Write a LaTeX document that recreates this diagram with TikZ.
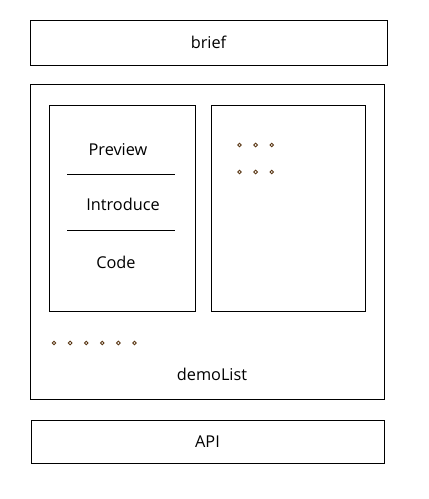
\documentclass[tikz,border=0pt]{standalone}
\usepackage{fontspec}
\setmainfont{Open Sans}
\usetikzlibrary{positioning}

\begin{document}
\begin{tikzpicture}[x=1pt, y=-1pt, line width=1pt, node distance=16pt, box node/.style={draw, rectangle, inner sep=0pt, font=\fontsize{16.3}{19}\selectfont}, text node/.style={inner sep=0pt, font=\fontsize{16.3}{19}\selectfont}, dot node/.style={circle, draw={rgb,255:red,90;green,55;blue,20}, line width=0.9pt, inner sep=0pt, minimum size=3.6pt}]
	\useasboundingbox (0,0) rectangle (429,499);
	\node[box node, minimum width=357pt, minimum height=45pt] (Brief) at (208.5,42.5) {brief};
	\node[box node, minimum width=354pt, minimum height=315pt] (DemoList) at (207,241.5) {};
	\node[box node, minimum width=146pt, minimum height=206pt] (Demo1) at (122,208) {};
	\node[box node, minimum width=154pt, minimum height=206pt] (Demo2) at (288,208) {};
	\node[box node, minimum width=353pt, minimum height=43pt] (Api) at (207.5,441.5) {API};
	\node[text node] (ListLabel) at (212,374) {demoList};
	\node[text node] (Preview) at (118,150) {Preview};
	\node[text node] (Introduce) at (123,204) {Introduce};
	\node[text node] (Code) at (116,262) {Code};
	\coordinate (L1a) at (67,174);
	\coordinate (L1b) at (175,174);
	\coordinate (L2a) at (67,230);
	\coordinate (L2b) at (175,230);
	\draw (L1a) -- (L1b);
	\draw (L2a) -- (L2b);
	\node[dot node] (D1) at (239.5,145) {};
	\node[dot node] (D2) [right=11.6pt of D1] {};
	\node[dot node] (D3) [right=11.6pt of D2] {};
	\node[dot node] (D4) at (239.5,172) {};
	\node[dot node] (D5) [right=11.6pt of D4] {};
	\node[dot node] (D6) [right=11.6pt of D5] {};
	\node[dot node] (M1) at (54,343) {};
	\node[dot node] (M2) [right=11.6pt of M1] {};
	\node[dot node] (M3) [right=11.6pt of M2] {};
	\node[dot node] (M4) [right=11.6pt of M3] {};
	\node[dot node] (M5) [right=11.6pt of M4] {};
	\node[dot node] (M6) [right=11.6pt of M5] {};
\end{tikzpicture}
\end{document}
